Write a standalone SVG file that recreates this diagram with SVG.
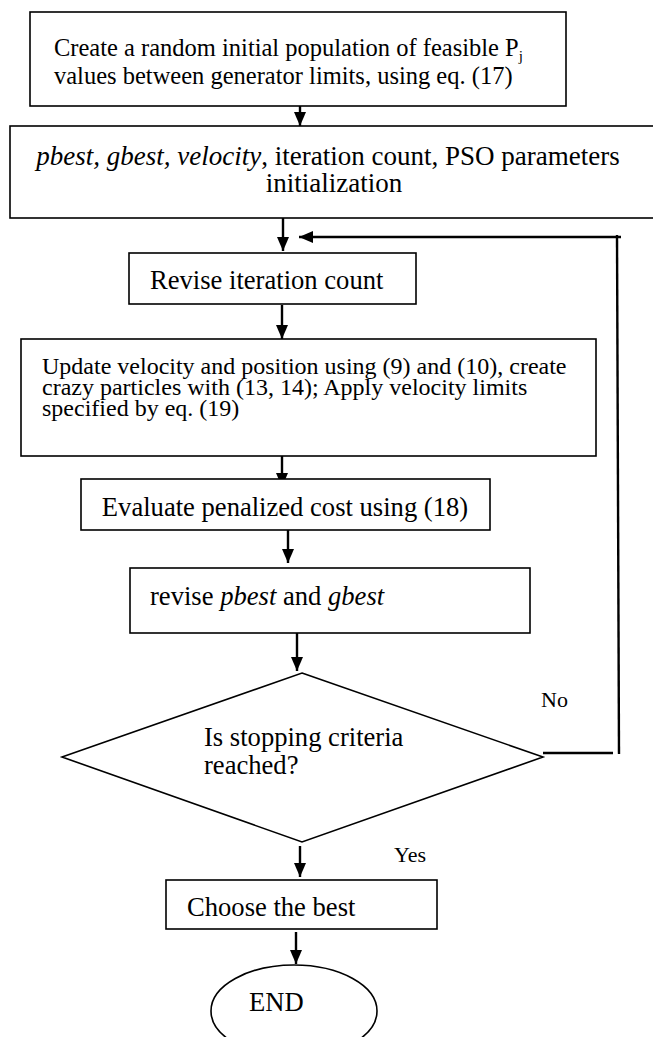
<svg xmlns="http://www.w3.org/2000/svg" width="653" height="1037" viewBox="0 0 653 1037">
<style>
.box{fill:#fff;stroke:#000;stroke-width:1.6}
.t{font-family:"Liberation Serif","Times New Roman",serif;fill:#000}
.f24{font-size:24px}
.f245{font-size:24.5px}
.f27{font-size:27px}
.f26{font-size:26.6px}
.f22{font-size:22px}
.con{stroke:#000;stroke-width:2.4;fill:none}
.it{font-style:italic}
</style>
<defs>
<marker id="ah" viewBox="0 0 14 12" refX="14" refY="6" markerWidth="14" markerHeight="12" markerUnits="userSpaceOnUse" orient="auto">
<path d="M0,0 L14,6 L0,12 z" fill="#000"/>
</marker>
</defs>
<rect width="653" height="1037" fill="#fff"/>
<g id="connectors">
<line class="con" x1="300" y1="106" x2="300" y2="126" marker-end="url(#ah)"/>
<line class="con" x1="283" y1="218" x2="283" y2="251" marker-end="url(#ah)"/>
<polyline class="con" points="621,237 299,237" marker-end="url(#ah)"/>
<line class="con" x1="617" y1="235" x2="619" y2="754"/>
<line class="con" x1="543" y1="753" x2="613" y2="753"/>
<line class="con" x1="282" y1="305" x2="282" y2="339" marker-end="url(#ah)"/>
<line class="con" x1="282" y1="456" x2="282" y2="487" marker-end="url(#ah)"/>
<line class="con" x1="288" y1="530" x2="288" y2="563" marker-end="url(#ah)"/>
<line class="con" x1="297" y1="633" x2="297" y2="671" marker-end="url(#ah)"/>
<line class="con" x1="300" y1="846" x2="300" y2="877" marker-end="url(#ah)"/>
<line class="con" x1="296" y1="932" x2="296" y2="964" marker-end="url(#ah)"/>
</g>
<g id="n1">
<rect class="box" x="30" y="12" width="536" height="94"/>
<text class="t f245" x="54" y="56">Create a random initial population of feasible P<tspan font-size="15" dy="5">j</tspan></text>
<text class="t f245" x="54" y="84">values between generator limits, using eq. (17)</text>
</g>
<g id="n2">
<rect class="box" x="10" y="126" width="660" height="92"/>
<text class="t f27" x="328" y="165" text-anchor="middle"><tspan class="it">pbest, gbest, velocity</tspan>, iteration count, PSO parameters</text>
<text class="t f27" x="334" y="192" text-anchor="middle">initialization</text>
</g>
<g id="n3">
<rect class="box" x="129" y="253" width="287" height="51"/>
<text class="t f26" x="150" y="289">Revise iteration count</text>
</g>
<g id="n4">
<rect class="box" x="21" y="339" width="575" height="117"/>
<text class="t f24" x="42" y="374">Update velocity and position using (9) and (10), create</text>
<text class="t f24" x="42" y="395">crazy particles with (13, 14); Apply velocity limits</text>
<text class="t f24" x="42" y="416">specified by eq. (19)</text>
</g>
<g id="n5">
<rect class="box" x="81" y="479" width="409" height="51"/>
<text class="t f26" x="285" y="516" text-anchor="middle">Evaluate penalized cost using (18)</text>
</g>
<g id="n6">
<rect class="box" x="130" y="568" width="400" height="65"/>
<text class="t f26" x="150" y="605">revise <tspan class="it">pbest</tspan> and <tspan class="it">gbest</tspan></text>
</g>
<g id="n7">
<polygon class="box" points="302,673 543,757 302,842 62,757"/>
<text class="t f26" x="204" y="746">Is stopping criteria</text>
<text class="t f26" x="204" y="774">reached?</text>
</g>
<g id="labels">
<text class="t f22" x="541" y="707">No</text>
<text class="t f22" x="394" y="862">Yes</text>
</g>
<g id="n8">
<rect class="box" x="166" y="880" width="271" height="49"/>
<text class="t f26" x="187" y="916">Choose the best</text>
</g>
<g id="n9">
<ellipse class="box" cx="294" cy="1011" rx="83" ry="46"/>
<text class="t f26" x="249" y="1011">END</text>
</g>
</svg>
